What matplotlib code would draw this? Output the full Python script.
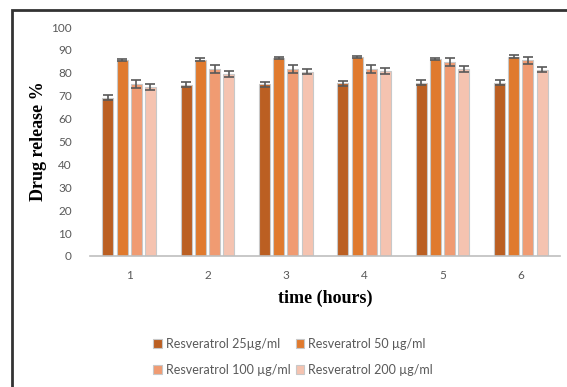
import numpy as np
import matplotlib.pyplot as plt
from matplotlib.patches import Rectangle

# data
hours = [1, 2, 3, 4, 5, 6]
labels = ['Resveratrol 25µg/ml', 'Resveratrol 50 µg/ml',
          'Resveratrol 100 µg/ml', 'Resveratrol 200 µg/ml']
r25 = [69.2, 74.8, 75.1, 75.4, 75.6, 75.7]
r50 = [85.7, 85.8, 86.6, 86.9, 86.1, 87.1]
r100 = [75.0, 81.7, 81.7, 81.8, 84.6, 85.4]
r200 = [74.0, 79.6, 80.4, 80.8, 81.6, 81.4]
e25 = [1.2, 1.0, 1.1, 1.2, 1.1, 1.0]
e50 = [0.5, 0.5, 0.5, 0.5, 0.5, 0.5]
e100 = [1.7, 1.7, 1.6, 1.7, 1.7, 1.7]
e200 = [1.3, 1.3, 1.1, 1.2, 1.4, 1.2]

series = [r25, r50, r100, r200]
errors = [e25, e50, e100, e200]
colors = ['#BB5F22', '#E07A2E', '#F09B72', '#F5C3B0']

fig = plt.figure(figsize=(5.67, 3.87), dpi=100)
ax = fig.add_axes([90/567, 1-256/387, 470/567, 229/387])

x = np.array(hours)
w = 0.14
step = 0.181
bars = []
for i, (vals, err, c) in enumerate(zip(series, errors, colors)):
    b = ax.bar(x + (i-1.5)*step, vals, w, color=c, edgecolor='#c8c8c8',
               linewidth=0.8, yerr=err, capsize=3.5,
               error_kw=dict(ecolor='#595959', elinewidth=1.2, capthick=1.2),
               label=labels[i], zorder=2)
    bars.append(b)

ax.set_xlim(0.5, 6.5)
ax.set_ylim(0, 100)
ax.set_yticks(range(0, 101, 10))
ax.set_xticks(hours)
for s in ['top', 'right', 'left']:
    ax.spines[s].set_visible(False)
ax.spines['bottom'].set_color('#BFBFBF')
ax.spines['bottom'].set_linewidth(1.2)
ax.tick_params(axis='both', length=0, labelsize=8.5, labelcolor='#595959')
ax.tick_params(axis='y', pad=13)
ax.tick_params(axis='x', pad=10)
for t in ax.get_xticklabels() + ax.get_yticklabels():
    t.set_family('Lato')

ax.set_ylabel('Drug release %', family='Liberation Serif', fontweight='bold',
              fontsize=13, labelpad=3)
ax.set_xlabel('time (hours)', family='Liberation Serif', fontweight='bold',
              fontsize=13, labelpad=6)

# legend: row 1 -> 25, 50 ; row 2 -> 100, 200
order = [0, 2, 1, 3]
fig.legend([bars[k] for k in order], [labels[k] for k in order], ncol=2,
           loc='center', bbox_to_anchor=(293/567, 1-357/387), frameon=False,
           prop={'family': 'Lato', 'size': 9}, labelcolor='#595959',
           handlelength=0.7, handleheight=0.7, handletextpad=0.3,
           columnspacing=0.4, labelspacing=1.1)

# outer frame (cropped screenshot border)
fig.add_artist(Rectangle((12/567, -0.1), 1.0, 1.1 - 10/387,
                         transform=fig.transFigure, fill=False,
                         lw=2, ec='#333333'))

fig.savefig('out.png', dpi=100)
